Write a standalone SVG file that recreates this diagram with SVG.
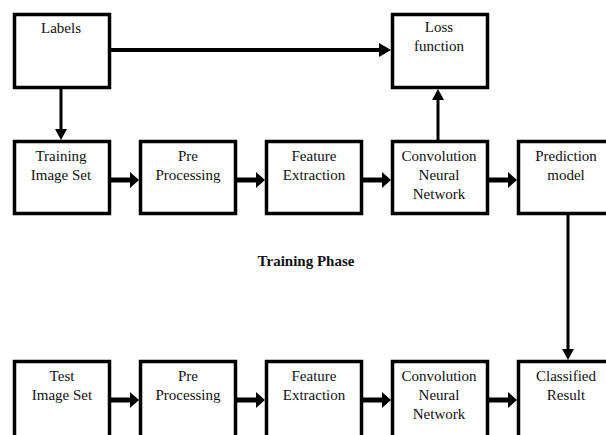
<svg xmlns="http://www.w3.org/2000/svg" width="606" height="435" viewBox="0 0 606 435">
<style>
.box{fill:#fff;stroke:#000;stroke-width:3.5}
.t{font-family:"Liberation Serif","Times New Roman",serif;font-size:15px;fill:#111;text-anchor:middle}
.b{font-weight:bold}
.thick{stroke:#000;stroke-width:5;fill:none}
.mid{stroke:#000;stroke-width:4;fill:none}
.thin{stroke:#000;stroke-width:3;fill:none}
.head{fill:#000}
</style>
<rect width="606" height="435" fill="#fff"/>
<g id="labels"><rect class="box" x="14.5" y="14.5" width="95" height="73"/><text class="t" x="61" y="33">Labels</text></g>
<g id="loss"><rect class="box" x="392.5" y="14.5" width="95" height="73"/><text class="t" x="439" y="32">Loss</text><text class="t" x="439" y="51">function</text></g>
<g id="training"><rect class="box" x="14.5" y="141.5" width="95" height="72"/><text class="t" x="61" y="161">Training</text><text class="t" x="61" y="180">Image Set</text></g>
<g id="pre1"><rect class="box" x="140.5" y="141.5" width="95" height="72"/><text class="t" x="188" y="161">Pre</text><text class="t" x="188" y="180">Processing</text></g>
<g id="feat1"><rect class="box" x="266.5" y="141.5" width="95" height="72"/><text class="t" x="314" y="161">Feature</text><text class="t" x="314" y="180">Extraction</text></g>
<g id="cnn1"><rect class="box" x="392.5" y="141.5" width="95" height="72"/><text class="t" x="439" y="161">Convolution</text><text class="t" x="439" y="180">Neural</text><text class="t" x="439" y="199">Network</text></g>
<g id="pred"><rect class="box" x="518.5" y="141.5" width="100" height="72"/><text class="t" x="566" y="161">Prediction</text><text class="t" x="566" y="180">model</text></g>
<g id="phase"><text class="t b" x="306" y="266">Training Phase</text></g>
<g id="test"><rect class="box" x="14.5" y="361.5" width="95" height="90"/><text class="t" x="62" y="381">Test</text><text class="t" x="62" y="400">Image Set</text></g>
<g id="pre2"><rect class="box" x="140.5" y="361.5" width="95" height="90"/><text class="t" x="188" y="381">Pre</text><text class="t" x="188" y="400">Processing</text></g>
<g id="feat2"><rect class="box" x="266.5" y="361.5" width="95" height="90"/><text class="t" x="314" y="381">Feature</text><text class="t" x="314" y="400">Extraction</text></g>
<g id="cnn2"><rect class="box" x="392.5" y="361.5" width="95" height="90"/><text class="t" x="439" y="381">Convolution</text><text class="t" x="439" y="400">Neural</text><text class="t" x="439" y="419">Network</text></g>
<g id="classified"><rect class="box" x="518.5" y="361.5" width="100" height="90"/><text class="t" x="566" y="381">Classified</text><text class="t" x="566" y="400">Result</text></g>
<g id="connectors">
<line class="mid" x1="111" y1="50" x2="382" y2="50"/><path class="head" d="M379,43 L391,50 L379,57 Z"/>
<line class="thin" x1="61" y1="89" x2="61" y2="132"/><path class="head" d="M55,129 L61,140 L67,129 Z"/>
<line class="thin" x1="438" y1="140" x2="438" y2="98"/><path class="head" d="M432,100 L438,89 L444,100 Z"/>
<line class="thin" x1="568" y1="215" x2="568" y2="352"/><path class="head" d="M562,349 L568,360 L574,349 Z"/>
<line class="thick" x1="111" y1="180" x2="131" y2="180"/><path class="head" d="M130,172 L139,180 L130,188 Z"/>
<line class="thick" x1="237" y1="180" x2="257" y2="180"/><path class="head" d="M256,172 L265,180 L256,188 Z"/>
<line class="thick" x1="363" y1="180" x2="383" y2="180"/><path class="head" d="M382,172 L391,180 L382,188 Z"/>
<line class="thick" x1="489" y1="180" x2="509" y2="180"/><path class="head" d="M508,172 L517,180 L508,188 Z"/>
<line class="thick" x1="111" y1="400" x2="131" y2="400"/><path class="head" d="M130,392 L139,400 L130,408 Z"/>
<line class="thick" x1="237" y1="400" x2="257" y2="400"/><path class="head" d="M256,392 L265,400 L256,408 Z"/>
<line class="thick" x1="363" y1="400" x2="383" y2="400"/><path class="head" d="M382,392 L391,400 L382,408 Z"/>
<line class="thick" x1="489" y1="400" x2="509" y2="400"/><path class="head" d="M508,392 L517,400 L508,408 Z"/>
</g>
</svg>
